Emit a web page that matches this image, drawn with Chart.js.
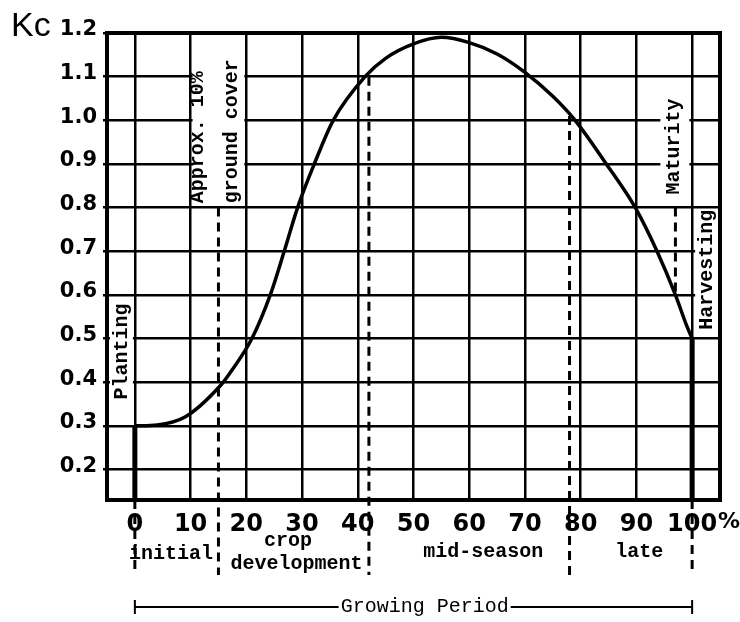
<!DOCTYPE html>
<html>
<head>
<meta charset="utf-8">
<script src="https://cdn.jsdelivr.net/npm/chart.js@4.4.1/dist/chart.umd.min.js"></script>
<style>
  body { margin: 0; background: #fff; }
</style>
</head>
<body>
<canvas id="kcChart" width="740" height="622"></canvas>
<script>
// Kc curve (growing period in %, crop coefficient)
const growthPct = [0, 4, 9, 15.2, 17, 21, 24.3, 26.8, 29.2, 32.2, 35.6, 41.3, 45, 50, 55, 60, 65, 70, 75, 79, 84.6, 89.8, 93.7, 97, 99, 100];
const kcValues = [0.30, 0.302, 0.32, 0.39, 0.42, 0.50, 0.60, 0.70, 0.80, 0.90, 1.00, 1.10, 1.142, 1.175, 1.19, 1.178, 1.152, 1.11, 1.055, 1.00, 0.90, 0.80, 0.70, 0.60, 0.53, 0.50];

const xTicks = [0, 10, 20, 30, 40, 50, 60, 70, 80, 90, 100];
const yTicks = [0.2, 0.3, 0.4, 0.5, 0.6, 0.7, 0.8, 0.9, 1.0, 1.1, 1.2];

// stage boundaries (% of growing period)
const stageBounds = [0, 15, 42, 78, 100];
const stageNames = ["initial", "crop development", "mid-season", "late"];
const maturityPct = 97;
const plantingKc = 0.3;
const harvestKc = 0.5;

const MONO = "'Liberation Mono', 'DejaVu Sans Mono', monospace";

function vText(ctx, text, x, y) {
  ctx.save();
  ctx.translate(x, y);
  ctx.rotate(-Math.PI / 2);
  ctx.textAlign = "left";
  ctx.textBaseline = "middle";
  ctx.fillText(text, 0, 0);
  ctx.restore();
}

function dashLine(ctx, x, y1, y2) {
  ctx.save();
  ctx.setLineDash([9, 6]);
  ctx.lineWidth = 3;
  ctx.beginPath();
  ctx.moveTo(x, y1);
  ctx.lineTo(x, y2);
  ctx.stroke();
  ctx.restore();
}

const kcPlugin = {
  id: "kcExtras",
  beforeDraw(chart) {
    const ctx = chart.ctx;
    ctx.save();
    ctx.fillStyle = "#fff";
    ctx.fillRect(0, 0, chart.width, chart.height);
    ctx.restore();
  },
  beforeDatasetsDraw(chart) {
    const ctx = chart.ctx;
    const x = chart.scales.x, y = chart.scales.y;
    const area = chart.chartArea;
    const px = v => x.getPixelForValue(v);
    const py = v => y.getPixelForValue(v);
    ctx.save();
    // white boxes behind the labels
    ctx.fillStyle = "#fff";
    ctx.fillRect(px(10) + 2, area.top + 2, px(20) - px(10) - 4, py(0.8) - area.top - 4);
    ctx.fillRect(area.left + 3, py(0.6) + 5, px(0) - area.left - 5, py(0.33) - py(0.6) - 5);
    ctx.fillRect(px(94.3), py(1.09), px(99.5) - px(94.3), py(0.81) - py(1.09));
    ctx.fillRect(px(100) + 3, py(0.79), area.right - px(100) - 5, py(0.51) - py(0.79));

    ctx.strokeStyle = "#000";
    const below = area.bottom + 75;
    // planting / harvesting lines
    ctx.lineWidth = 5;
    ctx.beginPath();
    ctx.moveTo(px(stageBounds[0]), py(plantingKc));
    ctx.lineTo(px(stageBounds[0]), area.bottom);
    ctx.moveTo(px(stageBounds[4]), py(harvestKc));
    ctx.lineTo(px(stageBounds[4]), area.bottom);
    ctx.stroke();
    // stage boundaries
    dashLine(ctx, px(stageBounds[0]), area.bottom, below);
    dashLine(ctx, px(stageBounds[1]), py(0.8), below);
    dashLine(ctx, px(stageBounds[2]), py(1.1), below);
    dashLine(ctx, px(stageBounds[3]), py(1.01), below);
    dashLine(ctx, px(stageBounds[4]), area.bottom, below);
    dashLine(ctx, px(maturityPct), py(0.8), py(0.6));
    ctx.restore();
  },
  afterDraw(chart) {
    const ctx = chart.ctx;
    const x = chart.scales.x, y = chart.scales.y;
    const area = chart.chartArea;
    const px = v => x.getPixelForValue(v);
    const py = v => y.getPixelForValue(v);
    ctx.save();
    // frame
    ctx.strokeStyle = "#000";
    ctx.lineWidth = 4;
    ctx.strokeRect(area.left, area.top, area.right - area.left, area.bottom - area.top);

    ctx.fillStyle = "#000";
    // axis title and unit
    ctx.font = "34px 'Liberation Sans', Arial, sans-serif";
    ctx.textAlign = "left";
    ctx.textBaseline = "alphabetic";
    ctx.fillText("Kc", 11, 36);
    ctx.font = "bold 22px 'DejaVu Sans', sans-serif";
    ctx.textAlign = "center";
    ctx.textBaseline = "middle";
    ctx.fillText("%", 729, 522);

    // vertical labels inside the plot
    ctx.font = "bold 20px " + MONO;
    vText(ctx, "Planting", (area.left + px(0)) / 2 + 1, py(0.36));
    vText(ctx, "Approx. 10%", px(11.3), py(0.81));
    vText(ctx, "ground cover", px(17.4), py(0.81));
    vText(ctx, "Maturity", px(96.8), py(0.83));
    vText(ctx, "Harvesting", px(102.7), py(0.52));

    // stage names under the axis
    ctx.textAlign = "center";
    ctx.textBaseline = "middle";
    ctx.fillText(stageNames[0], px(6.5), 554);
    ctx.fillText("crop", px(27.5), 541);
    ctx.fillText("development", px(29), 564);
    ctx.fillText(stageNames[2], px(62.5), 552);
    ctx.fillText(stageNames[3], px(90.5), 552);

    // growing period bracket
    const gy = 607;
    const tx = px(52);
    ctx.font = "20px " + MONO;
    const tw = ctx.measureText("Growing Period").width;
    ctx.fillText("Growing Period", tx, gy);
    ctx.lineWidth = 2;
    ctx.beginPath();
    ctx.moveTo(px(0), gy);
    ctx.lineTo(tx - tw / 2 - 2, gy);
    ctx.moveTo(tx + tw / 2 + 2, gy);
    ctx.lineTo(px(100), gy);
    ctx.moveTo(px(0), gy - 7);
    ctx.lineTo(px(0), gy + 7);
    ctx.moveTo(px(100), gy - 7);
    ctx.lineTo(px(100), gy + 7);
    ctx.stroke();
    ctx.restore();
  }
};

new Chart(document.querySelector("#kcChart"), {
  type: "line",
  data: {
    datasets: [{
      label: "Kc",
      data: growthPct.map((g, i) => ({ x: g, y: kcValues[i] })),
      borderColor: "#000",
      borderWidth: 3.5,
      pointRadius: 0,
      cubicInterpolationMode: "monotone",
      fill: false,
    }],
  },
  options: {
    responsive: false,
    animation: false,
    layout: { padding: { top: 33, right: 20, left: 0, bottom: 0 } },
    plugins: { legend: { display: false }, tooltip: { enabled: false } },
    scales: {
      x: {
        type: "linear",
        min: -5,
        max: 105,
        afterBuildTicks: (s) => { s.ticks = xTicks.map(v => ({ value: v })); },
        afterFit: (s) => { s.height = 122; },
        grid: { color: "#000", lineWidth: 2.5, drawTicks: false },
        border: { color: "#000", width: 4 },
        ticks: {
          color: "#000",
          padding: 10,
          autoSkip: false,
          maxRotation: 0,
          font: { family: "'DejaVu Sans', sans-serif", weight: "bold", size: 24 },
          callback: (v) => String(v),
        },
      },
      y: {
        type: "linear",
        min: 0.13,
        max: 1.2,
        afterBuildTicks: (s) => { s.ticks = yTicks.map(v => ({ value: v })); },
        afterFit: (s) => { s.width = 107; },
        grid: { color: "#000", lineWidth: 2.5, drawTicks: true, tickLength: 4 },
        border: { color: "#000", width: 4 },
        ticks: {
          color: "#000",
          padding: 6,
          labelOffset: -3,
          font: { family: "'DejaVu Sans', sans-serif", weight: "bold", size: 21 },
          callback: (v) => v.toFixed(1),
        },
      },
    },
  },
  plugins: [kcPlugin],
});
</script>
</body>
</html>
